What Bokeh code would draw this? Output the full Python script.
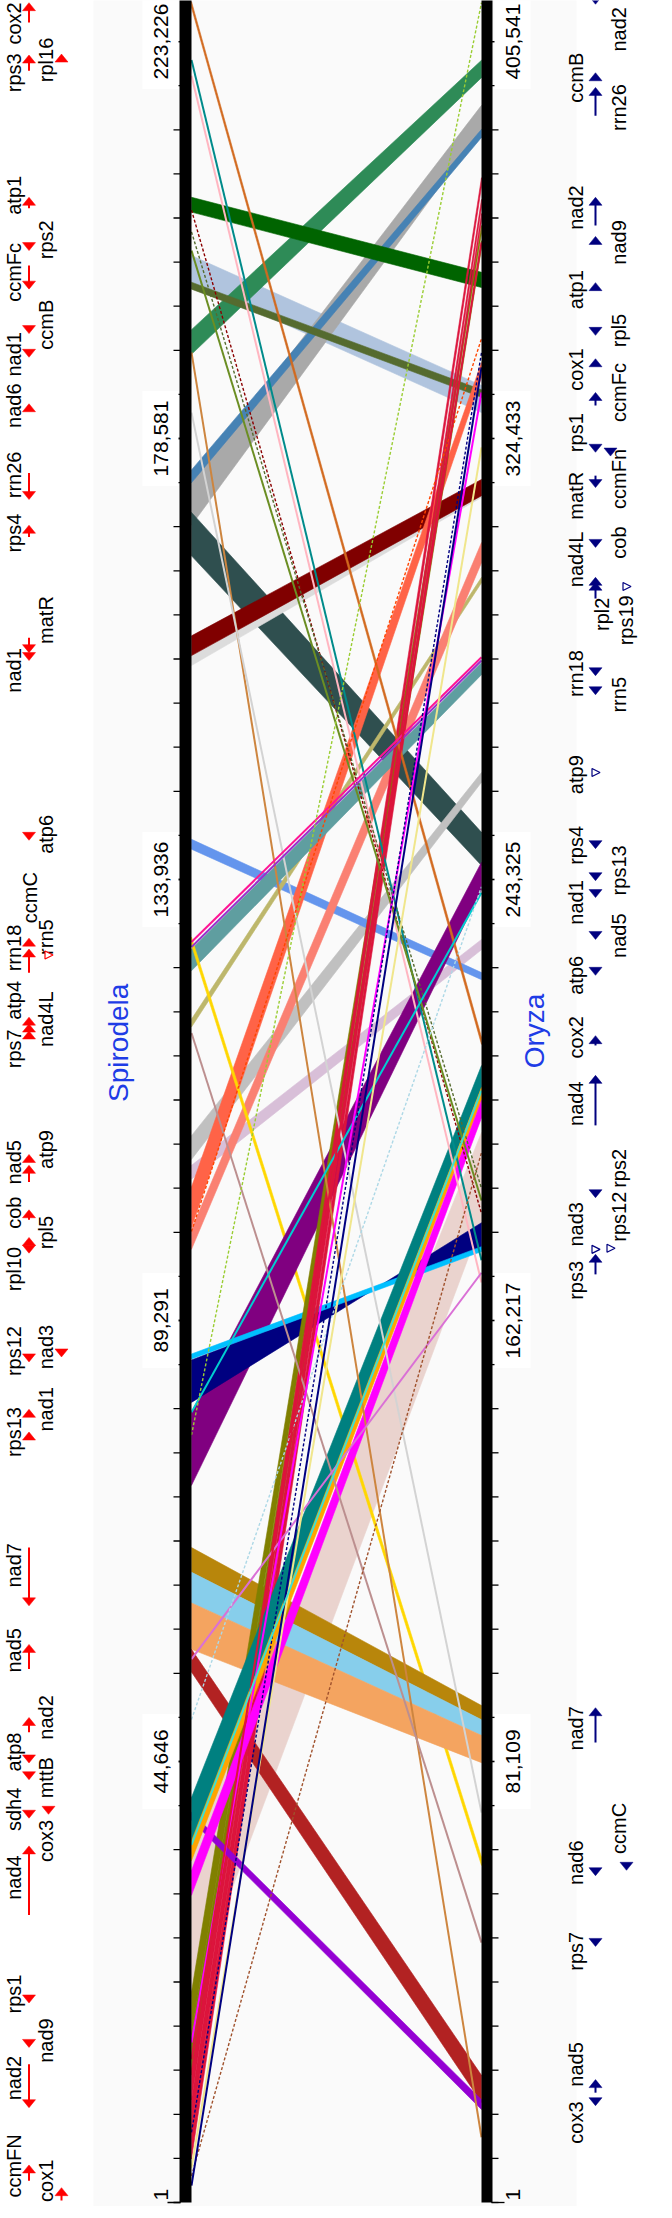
import math
from bokeh.plotting import figure
from bokeh.models import Range1d
from bokeh.core.properties import value
from bokeh.embed import file_html
from bokeh.resources import INLINE

# ------------------------------------------------------------------ data
# genome lengths drawn (kb) and tick step (kb per minor tick)
S_LEN = 223.0
O_LEN = 405.1
S_STEP = 4.4645
O_STEP = 8.1108
N_TICKS = 50
tick_idx = [0, 10, 20, 30, 40, 49]
s_tick_labels = ["1", "44,646", "89,291", "133,936", "178,581", "223,226"]
o_tick_labels = ["1", "81,109", "162,217", "243,325", "324,433", "405,541"]

# syntenic blocks: Spirodela kb range <-> Oryza kb range
rib_color = ["#EAD3CE", "#B0C4DE", "#A9A9A9", "#4682B4", "#2F4F4F", "#C0C0C0", "#D8BFD8",
             "#2E8B57", "#006400", "#556B2F", "#DCDCDC", "#800000", "#6495ED", "#BDB76B",
             "#FA8072", "#FF6347", "#5F9EA0", "#FFD700", "#800080", "#000080", "#00BFFF",
             "#B8860B", "#87CEEB", "#F4A460", "#B22222", "#808000", "#808000", "#DC143C",
             "#DC143C", "#DC143C", "#D2691E", "#9400D3", "#008080", "#FFA500", "#FF00FF"]
rib_s_lo = [20.8, 194.4, 169.8, 174.1, 166.7, 105.6, 103.6, 187.1, 201.5, 193.7, 155.6,
            156.6, 137.0, 119.0, 96.5, 98.7, 124.7, 127.3, 72.6, 81.0, 85.4, 63.8, 60.7,
            56.0, 53.7, 17.0, 12.9, 10.4, 7.4, 4.4, 222.2, 38.7, 36.4, 34.6, 31.1]
rib_s_hi = [35.4, 197.1, 174.1, 175.4, 171.1, 108.0, 105.0, 189.6, 203.0, 194.4, 156.6,
            158.6, 138.0, 119.8, 98.5, 102.8, 126.9, 128.1, 80.0, 85.3, 85.9, 66.3, 63.8,
            60.7, 56.0, 21.3, 17.0, 13.5, 10.4, 7.4, 222.8, 39.5, 41.0, 36.6, 33.6]
rib_o_lo = [180.2, 329.2, 381.3, 379.8, 245.9, 261.2, 230.4, 390.8, 352.2, 332.0, 313.6,
            313.9, 224.9, 297.9, 301.6, 335.7, 281.0, 62.0, 241.5, 175.3, 174.9, 88.8, 85.9,
            80.9, 18.4, 362.2, 359.5, 370.8, 367.0, 364.5, 213.0, 17.1, 205.1, 202.7, 199.5]
rib_o_hi = [196.8, 334.2, 385.7, 381.3, 252.0, 263.0, 232.3, 394.0, 355.0, 333.4, 315.1,
            316.9, 226.2, 298.9, 305.3, 338.4, 283.2, 63.5, 246.5, 180.2, 175.8, 91.4, 88.8,
            85.9, 23.4, 363.6, 360.8, 372.4, 368.4, 365.8, 214.3, 18.9, 209.1, 205.1, 202.7]
rib_inverted = [0, 0, 0, 0, 0, 0, 0, 0, 0, 0, 0, 0, 0, 0, 0, 0, 0, 0, 0, 1, 0, 0, 0, 0, 0,
                0, 0, 0, 0, 0, 0, 0, 0, 0, 0]

# short syntenic hits drawn as lines
hit_color = ["#008B8B", "#FFB6C1", "#8B0000", "#6B8E23", "#556B2F", "#CD853F", "#D3D3D3",
             "#FF1493", "#9932CC", "#BC8F8F", "#FF4500", "#00CED1", "#9ACD32", "#DA70D6",
             "#ADD8E6", "#FF00FF", "#DC143C", "#000080", "#F0E68C", "#A0522D", "#000080",
             "#40E0D0"]
hit_s = [216.9, 215.3, 201.7, 197.6, 199.5, 187.3, 181.2, 127.6, 127.1, 118.4, 98.3, 80.0,
         77.7, 55.0, 48.9, 16.2, 14.5, 7.1, 3.5, 2.7, 1.7, 36.2]
hit_o = [173.3, 169.2, 181.9, 184.3, 186.5, 12.0, 71.7, 284.2, 283.6, 47.8, 342.8, 240.9,
         404.6, 171.0, 242.0, 332.9, 360.5, 340.2, 322.8, 193.1, 337.5, 204.5]
hit_dashed = [0, 0, 1, 0, 1, 0, 0, 0, 0, 0, 1, 0, 1, 0, 1, 0, 0, 1, 0, 1, 0, 0]

# Spirodela genes (kb): label position, gene span, strand, track
s_gene = ["cox2", "rps3", "rpl16", "atp1", "rps2", "ccmFc", "ccmB", "nad1", "nad6", "rrn26",
          "rps4", "matR", "nad1", "atp6", "ccmC", "rrn18", "rrn5", "atp4", "nad4L", "rps7",
          "atp9", "nad5", "cob", "rpl5", "rpl10", "rps12", "nad3", "nad1", "rps13", "nad7",
          "nad5", "nad2", "atp8", "mttB", "sdh4", "cox3", "nad4", "rps1", "nad9", "nad2",
          "ccmFN", "cox1"]
s_col = [1, 1, 2, 1, 2, 1, 2, 1, 1, 1, 1, 2, 1, 2, 3, 1, 2, 1, 2, 1, 2, 1, 1, 2, 1, 1, 2, 2,
         1, 1, 1, 2, 1, 2, 1, 2, 1, 1, 2, 1, 1, 2]
s_lab = [220.6, 215.6, 216.9, 203.2, 198.7, 195.4, 190.1, 187.1, 181.9, 174.9, 169.0, 160.2,
         155.1, 138.5, 132.1, 127.0, 128.1, 121.7, 119.8, 116.8, 106.6, 105.3, 100.2, 98.2,
         94.5, 86.2, 86.6, 80.3, 78.0, 64.5, 55.9, 49.1, 45.6, 43.0, 39.8, 36.6, 32.9, 21.1,
         16.4, 12.6, 3.7, 2.2]
s_lo = [220.7, 215.8, 217.5, 201.9, 197.6, 193.7, 189.2, 186.8, 182.1, 172.4, 168.6, 156.9,
        156.1, 137.9, 128.0, 124.5, 126.3, 120.0, 119.3, 118.6, 106.1, 103.3, 99.5, 97.7,
        96.1, 85.1, 85.6, 80.3, 78.0, 60.4, 54.0, 47.6, 44.5, 42.8, 38.9, 39.3, 29.1, 20.2,
        15.7, 9.6, 2.2, 0.2]
s_hi = [222.7, 217.4, 217.5, 203.0, 197.6, 196.1, 189.2, 186.8, 182.1, 175.1, 169.8, 158.4,
        156.1, 137.9, 128.0, 126.9, 126.3, 120.0, 119.3, 118.6, 106.1, 105.0, 100.5, 97.7,
        96.1, 85.1, 85.6, 80.3, 78.0, 66.3, 56.5, 49.1, 44.5, 42.8, 38.9, 39.3, 36.1, 20.2,
        15.7, 14.0, 3.8, 1.5]
s_strand = [1, 1, 1, 1, -1, -1, -1, -1, 1, -1, 1, -1, -1, -1, 1, 1, 0, 1, 1, 1, 1, 1, 1, 1,
            -1, -1, -1, 1, 1, -1, 1, 1, -1, -1, -1, -1, 1, -1, -1, -1, 1, 1]
s_track = [1, 1, 2, 1, 1, 1, 1, 1, 1, 1, 1, 1, 1, 1, 1, 1, 3, 1, 1, 1, 1, 1, 1, 1, 1, 1, 2, 1,
           1, 1, 1, 1, 1, 1, 1, 3, 1, 1, 1, 1, 1, 2]

# Oryza genes (kb)
o_gene = ["nad2", "ccmB", "rrn26", "nad2", "nad9", "atp1", "rpl5", "cox1", "ccmFc", "rps1",
          "ccmFn", "matR", "cob", "nad4L", "rpl2", "rps19", "rrn18", "rrn5", "atp9", "rps4",
          "rps13", "nad1", "nad5", "atp6", "cox2", "nad4", "rps2", "rps12", "nad3", "rps3",
          "nad7", "ccmC", "nad6", "rps7", "nad5", "cox3"]
o_col = [2, 1, 2, 1, 2, 1, 2, 1, 2, 1, 2, 1, 2, 1, 4, 3, 1, 2, 1, 1, 2, 1, 2, 1, 1, 1, 2, 2,
         1, 1, 1, 2, 1, 1, 1, 1]
o_lab = [399.7, 390.8, 385.3, 366.9, 360.5, 351.8, 344.3, 337.1, 332.9, 325.5, 317.0, 313.9,
         305.3, 302.2, 292.1, 291.0, 281.2, 277.3, 262.6, 249.6, 245.0, 239.1, 233.0, 225.7,
         214.3, 202.1, 190.2, 181.3, 179.9, 169.6, 87.2, 68.8, 62.5, 46.2, 25.4, 14.7]
o_lo = [404.3, 391.7, 383.8, 363.6, 361.6, 353.1, 343.4, 339.1, 330.5, 321.9, 321.2, 315.4,
        304.4, 298.9, 295.0, 297.2, 280.8, 277.3, 263.0, 249.0, 243.1, 240.0, 232.3, 225.7,
        212.8, 198.1, 184.8, 175.5, 175.3, 170.7, 84.6, 61.1, 60.1, 47.1, 20.2, 17.8]
o_hi = [404.3, 391.7, 389.0, 368.8, 361.6, 353.1, 343.4, 339.1, 332.9, 321.9, 322.8, 317.6,
        304.4, 298.9, 298.0, 297.2, 280.8, 277.3, 263.0, 249.0, 243.1, 241.5, 232.3, 225.7,
        214.6, 207.3, 184.8, 175.5, 175.3, 174.4, 91.0, 61.1, 60.1, 47.1, 22.6, 17.8]
o_strand = [-1, 1, 1, 1, 1, 1, -1, 1, 1, -1, -1, -1, -1, 1, 1, 0, -1, -1, 0, -1, -1, -1, -1,
            -1, 1, 1, -1, 0, 0, 1, 1, -1, -1, -1, 1, -1]
o_track = [1, 1, 1, 1, 1, 1, 1, 1, 1, 1, 2, 1, 1, 1, 1, 3, 1, 1, 1, 1, 1, 1, 1, 1, 1, 1, 1, 2,
           1, 1, 1, 3, 1, 1, 1, 1]

# ------------------------------------------------------------------ layout
FONT = value("Liberation Sans")
W, H = 656, 2206
PX = S_STEP / 44.1           # plot units (Spirodela kb) per screen pixel
C = S_STEP / O_STEP          # Oryza kb -> plot units
XL, XR = 199, 489            # inner edges of the two genome bars
L_COL = {1: 21.5, 2: 53.5, 3: 37}
L_TRACK = {1: 36.5, 2: 69, 3: 56}
R_COL = {1: 583, 2: 626, 3: 633, 4: 609}
R_TRACK = {1: 603, 2: 618, 3: 634}

p = figure(width=W, height=H, x_range=Range1d(8, 8 + W),
           y_range=Range1d(-4 * PX, (H - 4) * PX),
           output_backend="svg", toolbar_location=None, min_border=0)
p.axis.visible = False
p.grid.visible = False
p.outline_line_color = None
p.background_fill_color = "white"
p.border_fill_color = "white"

# light panel
p.quad(left=101, right=584, bottom=-10, top=240, fill_color="#FAFAFA", line_color=None)

# ribbons
xs, ys = [], []
for slo, shi, olo, ohi, inv in zip(rib_s_lo, rib_s_hi, rib_o_lo, rib_o_hi, rib_inverted):
    xs.append([XL, XR, XR, XL])
    if inv:
        ys.append([shi, olo * C, ohi * C, slo])
    else:
        ys.append([shi, ohi * C, olo * C, slo])
p.patches(xs, ys, fill_color=rib_color, line_color=rib_color, line_width=0.6)

for col, s, o, d in zip(hit_color, hit_s, hit_o, hit_dashed):
    p.segment(x0=XL, y0=s, x1=XR, y1=o * C, line_color=col,
              line_width=1.4 if d else 2.0, line_dash="3 2" if d else "solid")

# genome bars
p.quad(left=[187, 489], right=[199, 500], bottom=[0, 0], top=[S_LEN, O_LEN * C],
       fill_color="black", line_color=None)

# ticks
minor = [k * S_STEP for k in range(N_TICKS)]
p.segment(x0=181, y0=minor, x1=188, y1=minor, line_color="black", line_width=1.3)
p.segment(x0=499, y0=minor, x1=506, y1=minor, line_color="black", line_width=1.3)
major = [k * S_STEP for k in tick_idx]
p.segment(x0=175, y0=major, x1=188, y1=major, line_color="black", line_width=1.3)
p.segment(x0=499, y0=major, x1=512, y1=major, line_color="black", line_width=1.3)

# white label backs
p.rect(x=168, y=major[1:], width=36, height=95 * PX, fill_color="white", line_color=None)
p.rect(x=520, y=major[1:], width=36, height=95 * PX, fill_color="white", line_color=None)

for xpos, labels in ((168, s_tick_labels), (520, o_tick_labels)):
    p.text(x=[xpos] * 5, y=major[1:], text=labels[1:], angle=math.pi / 2,
           text_align="center", text_baseline="middle", text_font=FONT,
           text_font_size="21px", text_color="black")
    p.text(x=[xpos], y=[major[0] + 2 * PX], text=labels[:1], angle=math.pi / 2,
           text_align="left", text_baseline="middle", text_font=FONT,
           text_font_size="21px", text_color="black")

# species names
p.text(x=[126], y=[117.4], text=["Spirodela"], angle=math.pi / 2, text_align="center",
       text_baseline="middle", text_font=FONT, text_font_size="28px", text_color="#1E3CE6")
p.text(x=[542], y=[118.6], text=["Oryza"], angle=math.pi / 2, text_align="center",
       text_baseline="middle", text_font=FONT, text_font_size="28px", text_color="#1E3CE6")


def draw_genes(names, cols, lab, lo, hi, strand, track, col_x, track_x, scale, color):
    p.text(x=[col_x[c] for c in cols], y=[v * scale for v in lab], text=names,
           angle=math.pi / 2, text_align="center", text_baseline="middle",
           text_font=FONT, text_font_size="20px", text_color="black")
    sx, sy0, sy1, tx, ty, hx, hy = [], [], [], [], [], [], []
    for a, b, sd, t in zip(lo, hi, strand, track):
        x = track_x[t]
        y0, y1 = a * scale, b * scale
        if sd == 0:
            yc = (y0 + y1) / 2
            hx.append([x - 3.5, x - 3.5, x + 4.5])
            hy.append([yc + 4 * PX, yc - 4 * PX, yc])
            continue
        tip = y1 if sd > 0 else y0
        tail = y0 if sd > 0 else y1
        if abs(y1 - y0) > 9 * PX:
            sx.append(x)
            sy0.append(tail)
            sy1.append(tip - sd * 5 * PX)
        tx.append([x - 6.5, x + 6.5, x])
        ty.append([tip - sd * 8 * PX, tip - sd * 8 * PX, tip])
    p.segment(x0=sx, y0=sy0, x1=sx, y1=sy1, line_color=color, line_width=2)
    p.patches(tx, ty, fill_color=color, line_color=color, line_width=0.5)
    p.patches(hx, hy, fill_color="white", line_color=color, line_width=1.2)


draw_genes(s_gene, s_col, s_lab, s_lo, s_hi, s_strand, s_track, L_COL, L_TRACK, 1.0, "#FF0000")
draw_genes(o_gene, o_col, o_lab, o_lo, o_hi, o_strand, o_track, R_COL, R_TRACK, C, "#00007F")

open("out.html", "w").write(file_html(p, INLINE))
